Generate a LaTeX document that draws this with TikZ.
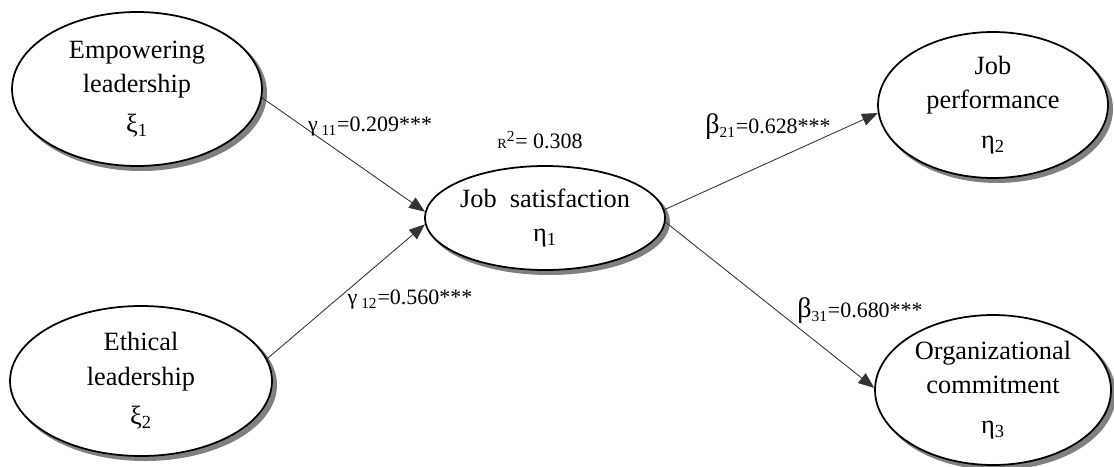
\documentclass[tikz,border=0pt]{standalone}
\usepackage{fontspec}
\setmainfont{Liberation Serif}
\usetikzlibrary{shapes.geometric,arrows.meta}

\begin{document}
\begin{tikzpicture}[x=0.02cm,y=-0.02cm,
  font=\fontsize{15}{19.5}\selectfont,
  var/.style={ellipse,draw,line width=1pt,fill=white,align=center,inner sep=0pt},
  backshadow/.style={fill=black!50,draw=none},
  arr/.style={-{Triangle[length=9pt,width=7pt]},line width=0.5pt,draw=black!80},
  coef/.style={font=\fontsize{12.5}{14}\selectfont}]
\useasboundingbox (0,0) rectangle (1114,466);
% shadows behind the ellipses
\path[backshadow] (141,93) ellipse [x radius=126, y radius=78];
\path[backshadow] (145,385) ellipse [x radius=132, y radius=76];
\path[backshadow] (549,222) ellipse [x radius=121, y radius=53];
\path[backshadow] (997,109) ellipse [x radius=116, y radius=74];
\path[backshadow] (997,394) ellipse [x radius=119, y radius=76];
% exogenous variables
\node[var,minimum width=5cm,minimum height=3.08cm] (emp) at (137,89)
  {Empowering\\leadership\\[3pt]ξ\textsubscript{1}};
\node[var,minimum width=5.24cm,minimum height=3cm] (eth) at (141,381)
  {Ethical\\leadership\\[3pt]ξ\textsubscript{2}};
% mediator
\node[var,minimum width=4.8cm,minimum height=2.08cm] (sat) at (545,218)
  {Job\ \ satisfaction\\η\textsubscript{1}};
% outcomes
\node[var,minimum width=4.6cm,minimum height=2.92cm] (perf) at (993,105)
  {Job\\performance\\[3pt]η\textsubscript{2}};
\node[var,minimum width=4.72cm,minimum height=3cm] (comm) at (993,390)
  {Organizational\\commitment\\[3pt]η\textsubscript{3}};
% paths
\draw[arr] (emp.-4) -- (sat.177);
\draw[arr] (eth.10) -- (sat.183);
\draw[arr] (sat.4) -- (perf.184);
\draw[arr] (sat.-2) -- (comm.179);
% coefficients
\node[coef] (g11) at (370,127) {γ\textsubscript{ 11}=0.209***};
\node[coef] (r2) at (540,140) {{\footnotesize R}\textsuperscript{2}= 0.308};
\node[coef] (g12) at (410,300) {γ\textsubscript{ 12}=0.560***};
\node[coef] (b21) at (768,127) {{\fontsize{16}{16}\selectfont β}\textsubscript{21}=0.628***};
\node[coef] (b31) at (860,311) {{\fontsize{16}{16}\selectfont β}\textsubscript{31}=0.680***};
\end{tikzpicture}
\end{document}
